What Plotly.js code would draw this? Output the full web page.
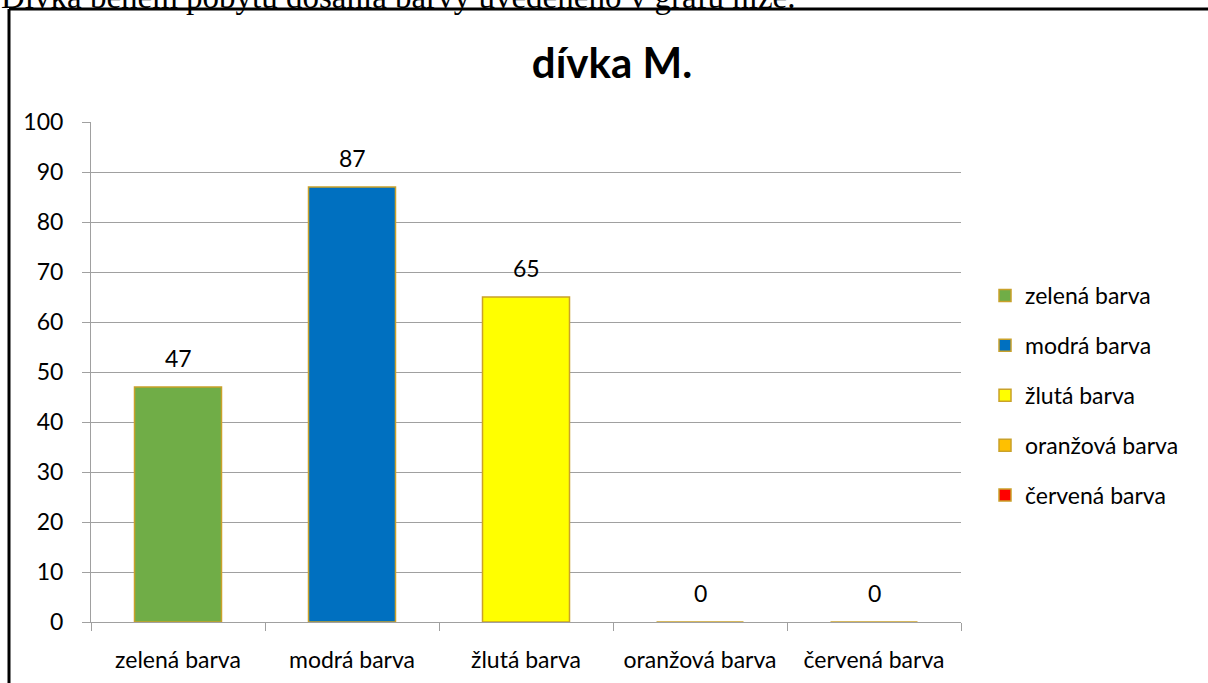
<!DOCTYPE html>
<html>
<head>
<meta charset="utf-8">
<script src="https://cdn.plot.ly/plotly-3.0.1.min.js"></script>
<style>html,body{margin:0;padding:0;background:#fff;}#chart{width:1208px;height:683px;}</style>
</head>
<body>
<div id="chart"></div>
<script>
const categories = ["zelená barva", "modrá barva", "žlutá barva", "oranžová barva", "červená barva"];
const values = [47, 87, 65, 0, 0];
const colors = ["#70AD47", "#0070C0", "#FFFF00", "#FFC000", "#FF0000"];
const yTicks = [0, 10, 20, 30, 40, 50, 60, 70, 80, 90, 100];
const chartTitle = "dívka M.";
const pageText = "Dívka během pobytu dosáhla barvy uvedeného v grafu níže.";

const FONT = "Lato, 'Open Sans', sans-serif";
const FS = 23;
const traces = categories.map((c, i) => ({
  type: "bar",
  name: c,
  x: [c],
  y: [values[i]],
  width: 0.5,
  marker: {color: colors[i], line: {color: "#C9A12A", width: 1.5}},
  legendgroup: "g" + i,
  hoverinfo: "x+y"
}));

const annotations = categories.map((c, i) => ({
  x: c, y: values[i], xref: "x", yref: "y",
  text: String(values[i]), showarrow: false,
  yanchor: "bottom", yshift: 13,
  font: {family: FONT, size: FS, color: "#000"}
}));
annotations.push({
  xref: "paper", yref: "paper", x: -0.106, y: 1.25,
  xanchor: "left", yanchor: "middle",
  text: pageText, showarrow: false,
  font: {family: "'Liberation Serif', 'Times New Roman', serif", size: 33, color: "#000"}
});

const layout = {
  width: 1208, height: 683,
  margin: {l: 91, r: 247, t: 122, b: 61, pad: 0},
  paper_bgcolor: "#fff", plot_bgcolor: "#fff",
  barmode: "overlay",
  title: {text: "<b>" + chartTitle + "</b>", x: 612/1208, xanchor: "center", xref: "container",
          y: 1 - 63/683, yanchor: "middle", yref: "container",
          font: {family: FONT, size: 42, color: "#000"}},
  xaxis: {type: "category", tickson: "boundaries", ticks: "outside", ticklen: 8, tickcolor: "#A0A0A0",
          showline: true, linecolor: "#A0A0A0", showgrid: false, zeroline: false,
          tickfont: {family: FONT, size: FS, color: "#000"}, ticklabelstandoff: 17, fixedrange: true},
  yaxis: {range: [0, 100], tickvals: yTicks, ticks: "outside", ticklen: 8, tickcolor: "#A0A0A0",
          showline: true, linecolor: "#A0A0A0", showgrid: true, gridcolor: "#A0A0A0", gridwidth: 1,
          zeroline: false, tickfont: {family: FONT, size: FS, color: "#000"}, ticklabelstandoff: 14, fixedrange: true},
  legend: {x: 1.0276, xanchor: "left", y: 0.696, yanchor: "top", traceorder: "grouped", tracegroupgap: 17,
           font: {family: FONT, size: FS, color: "#000"}, itemwidth: 30},
  showlegend: true,
  annotations: annotations,
  shapes: [
    {type: "line", xref: "paper", yref: "paper", x0: (9-91)/870, x1: (9-91)/870, y0: 1 + (122-9)/500, y1: -0.2, line: {color: "#000", width: 3}},
    {type: "line", xref: "paper", yref: "paper", x0: (9-91)/870, x1: 1.35, y0: 1 + (122-9)/500, y1: 1 + (122-9)/500, line: {color: "#000", width: 3}}
  ]
};

Plotly.newPlot("chart", traces, layout, {displayModeBar: false, staticPlot: true});
</script>
</body>
</html>
